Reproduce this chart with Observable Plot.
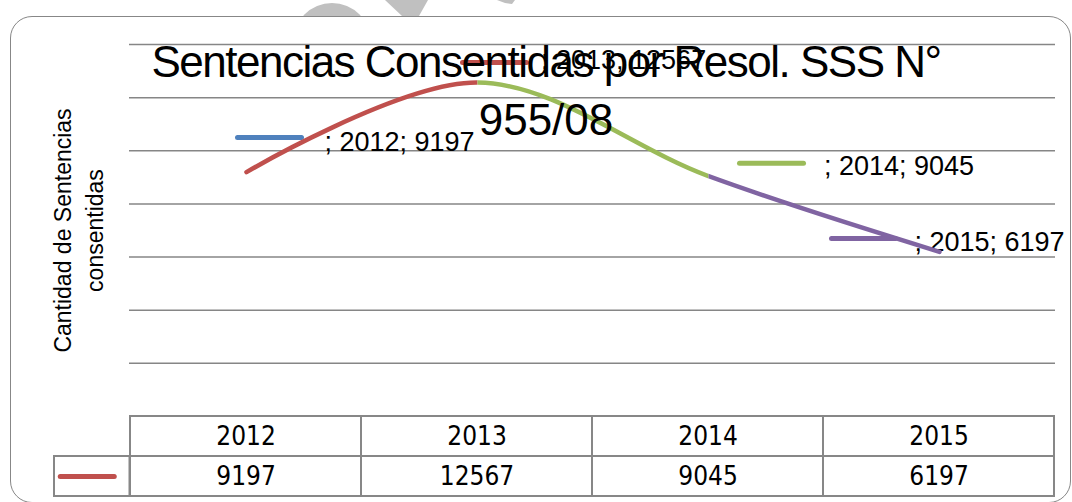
<!DOCTYPE html>
<html><head><meta charset="utf-8">
<script src="https://cdn.jsdelivr.net/npm/d3@7"></script>
<script src="https://cdn.jsdelivr.net/npm/@observablehq/plot@0.6"></script>
<style>
html,body{margin:0;padding:0;background:#fff;}
#wrap{position:relative;width:1072px;height:502px;overflow:hidden;background:#fff;font-family:"Liberation Sans",Arial,sans-serif;}
#wm{position:absolute;left:0;top:0;z-index:0;}
#frame{position:absolute;left:10px;top:16px;width:1061px;height:487px;border:1.5px solid #878787;border-radius:22px;background:#fff;box-sizing:border-box;z-index:1;}
#chart,#table{position:absolute;left:0;z-index:2;}
#chart{top:0;}
#table{top:414px;}
#title{position:absolute;left:0;width:1092px;top:33px;text-align:center;font-size:44px;line-height:58px;color:#000;white-space:nowrap;z-index:3;}
</style></head><body>
<div id="wrap">
  <svg id="wm" width="1072" height="30">
    <circle cx="332" cy="42" r="39" fill="#c0c0c0"></circle>
    <polygon points="385,0 428,0 419,16 402,16" fill="#c0c0c0"></polygon>
    <polygon points="497,0 515,0 512,4 505,3" fill="#c0c0c0"></polygon>
  </svg>
  <div id="frame"></div>
  <div id="chart"></div>
  <div id="table"></div>
  <div id="title"><span style="letter-spacing:-1.5px">Sentencias Consentidas por Resol. SSS N°</span><br>955/08</div>
</div>
<script>
// ---- data ----
const years = ["2012", "2013", "2014", "2015"];
const values = [9197, 12567, 9045, 6197];
const gridValues = [2000, 4000, 6000, 8000, 10000, 12000, 14000];
const yDomain = [0, 14000];
const rowNames = ["year", "value"];
const yTitle = "Cantidad de Sentencias\nconsentidas";

// ---- styles / layout ----
const segmentColors = ["#C0504D", "#9BBB59", "#8064A2"];
const labelColors = ["#4F81BD", "#C0504D", "#9BBB59", "#8064A2"];
const W = 1072, ML = 129, MR = 17;
const labelLayout = [
  {kdx: 23, kdy: -34.5, tdx: 78, tdy: -30},
  {kdx: 17, kdy: -20, tdx: 63.5, tdy: -22.6},
  {kdx: 63, kdy: -13, tdx: 115.5, tdy: -10},
  {kdx: -76, kdy: -13.3, tdx: -25, tdy: -9.6}
];
const sans = "Liberation Sans, Arial, sans-serif";
const narrow = "Liberation Sans Narrow, Arial Narrow, DejaVu Sans Condensed, sans-serif";
const gray = "#878787";

const data = years.map((year, i) => ({year, value: values[i], i}));
const keySymbol = (len) => ({draw(ctx) { ctx.moveTo(-len / 2, 0); ctx.lineTo(len / 2, 0); }});

const chart = Plot.plot({
  width: W, height: 416,
  marginLeft: ML, marginRight: MR, marginTop: 44, marginBottom: 0,
  style: {background: "transparent", overflow: "visible"},
  x: {type: "point", domain: years, padding: 0.5, axis: null},
  y: {domain: yDomain, axis: null},
  marks: [
    Plot.ruleY(gridValues, {stroke: "#868686", strokeWidth: 1.5}),
    Plot.text([yTitle], {
      frameAnchor: "left", textAnchor: "middle", dx: -53, rotate: -90, fontSize: 23, lineHeight: 1.43,
      fill: "#000", fontFamily: sans
    }),
    ...data.map(d => Plot.dot([d], {
      x: "year", y: "value", symbol: keySymbol(64), fill: "none",
      stroke: labelColors[d.i], strokeWidth: 5, strokeLinecap: "round",
      dx: labelLayout[d.i].kdx, dy: labelLayout[d.i].kdy
    })),
    ...data.map(d => Plot.text([d], {
      x: "year", y: "value", text: (e) => `; ${e.year}; ${e.value}`,
      textAnchor: "start", fontSize: 27, fill: "#000", fontFamily: sans,
      dx: labelLayout[d.i].tdx, dy: labelLayout[d.i].tdy
    })),
    ...segmentColors.map((c, k) => Plot.line(data, {
      x: "year", y: "value", curve: "cardinal", stroke: c, strokeWidth: 4.5,
      ariaDescription: `seg${k}`
    }))
  ]
});

// clip each coloured copy of the smooth curve to its own segment
(function () {
  const sx = chart.scale("x");
  const cx = years.map((y) => sx.apply(y));
  if (!cx.every(Number.isFinite)) return;
  const svg = d3.select(chart);
  const defs = svg.insert("defs", ":first-child");
  segmentColors.forEach((c, k) => {
    const x0 = k === 0 ? -1000 : cx[k];
    const x1 = k === segmentColors.length - 1 ? W + 1000 : cx[k + 1];
    defs.append("clipPath").attr("id", `clip-seg${k}`)
      .append("rect").attr("x", x0).attr("y", -1000).attr("width", x1 - x0).attr("height", 3000);
    svg.selectAll(`g[aria-description="seg${k}"]`).attr("clip-path", `url(#clip-seg${k})`);
  });
})();
document.getElementById("chart").appendChild(chart);

// data table below the plot
const tableCells = rowNames.flatMap((r) => years.map((y, i) => ({
  year: y, row: r, label: r === "year" ? y : String(values[i])
})));
const bw = (W - ML - MR) / years.length;
const legW = 76;
const legendCell = [{year: years[0], row: rowNames[1]}];
const table = Plot.plot({
  width: W, height: 86,
  marginLeft: ML, marginRight: MR, marginTop: 2, marginBottom: 4,
  style: {background: "transparent", overflow: "visible"},
  x: {type: "band", domain: years, padding: 0, axis: null},
  y: {type: "band", domain: rowNames, padding: 0, axis: null},
  marks: [
    Plot.cell(tableCells, {x: "year", y: "row", fill: "none", stroke: gray, strokeWidth: 2, inset: 0}),
    Plot.cell(legendCell, {x: "year", y: "row", fill: "none", stroke: gray, strokeWidth: 2,
      inset: 0, insetRight: bw - legW, dx: -legW}),
    Plot.dot(legendCell, {x: "year", y: "row", symbol: keySymbol(54), fill: "none",
      stroke: segmentColors[0], strokeWidth: 5, strokeLinecap: "round", dx: -(bw / 2 + 43)}),
    Plot.text(tableCells, {x: "year", y: "row", text: "label", fontSize: 26, fill: "#000", fontFamily: narrow})
  ]
});
document.getElementById("table").appendChild(table);
</script>
</body></html>
